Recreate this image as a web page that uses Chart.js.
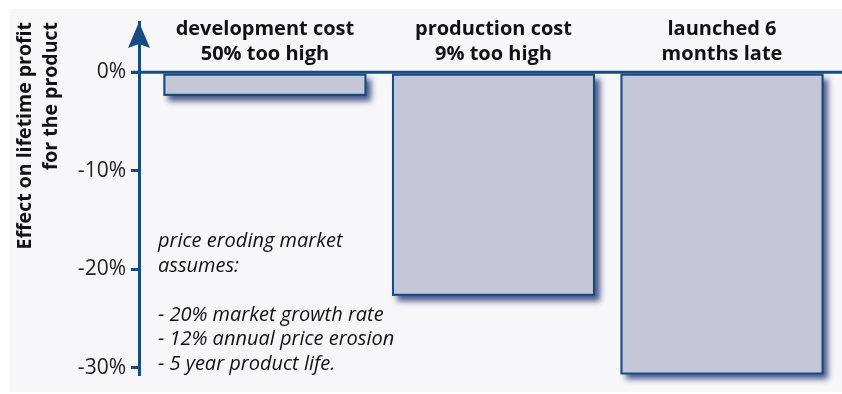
<!DOCTYPE html>
<html>
<head>
<meta charset="utf-8">
<script src="https://cdn.jsdelivr.net/npm/chart.js@4/dist/chart.umd.min.js"></script>
<style>
  html, body { margin: 0; padding: 0; background: #fff; }
</style>
</head>
<body>
<canvas id="profitChart" width="842" height="394"></canvas>
<script>
const categories = [
	['development cost', '50% too high'],
	['production cost', '9% too high'],
	['launched 6', 'months late']
];
const profitEffect = [-2.4, -22.7, -30.7];
const yTicks = [0, -10, -20, -30];
const axisTitle = ['Effect on lifetime profit', 'for the product'];
const noteLines = [
	'price eroding market',
	'assumes:',
	'',
	'- 20% market growth rate',
	'- 12% annual price erosion',
	'- 5 year product life.'
];

const navy = '#174c80';
const fontFamily = '"Open Sans", "Noto Sans", sans-serif';

// light panel behind everything
const backdrop = {
	id: 'backdrop',
	beforeDraw(chart) {
		const ctx = chart.ctx;
		ctx.save();
		ctx.fillStyle = '#ffffff';
		ctx.fillRect(0, 0, chart.width, chart.height);
		ctx.fillStyle = '#f7f7f9';
		ctx.fillRect(10, 9, chart.width - 10, chart.height - 11);
		ctx.restore();
	}
};

// soft drop shadow under each bar
const barShadow = {
	id: 'barShadow',
	beforeDatasetsDraw(chart) {
		const ctx = chart.ctx;
		const meta = chart.getDatasetMeta(0);
		ctx.save();
		ctx.shadowColor = 'rgba(30, 45, 110, 0.8)';
		ctx.shadowBlur = 6;
		ctx.shadowOffsetX = 5;
		ctx.shadowOffsetY = 5;
		ctx.fillStyle = navy;
		meta.data.forEach(bar => {
			const { x, y, base, width } = bar.getProps(['x', 'y', 'base', 'width'], true);
			ctx.fillRect(x - width / 2, Math.min(y, base), width, Math.abs(base - y));
		});
		ctx.restore();
	}
};

// zero line, arrow head, category headers and the side note
const decorations = {
	id: 'decorations',
	afterDatasetsDraw(chart) {
		const ctx = chart.ctx;
		const area = chart.chartArea;
		const yScale = chart.scales.y;
		const y0 = yScale.getPixelForValue(0);

		ctx.save();
		ctx.strokeStyle = navy;
		ctx.lineWidth = 3;
		ctx.beginPath();
		ctx.moveTo(area.left - 8, y0);
		ctx.lineTo(chart.width, y0);
		ctx.stroke();

		ctx.fillStyle = navy;
		ctx.beginPath();
		ctx.moveTo(area.left, area.top);
		ctx.lineTo(area.left + 11, area.top + 26);
		ctx.lineTo(area.left, area.top + 22);
		ctx.lineTo(area.left - 11, area.top + 26);
		ctx.closePath();
		ctx.fill();

		ctx.fillStyle = '#111';
		ctx.textAlign = 'center';
		ctx.textBaseline = 'alphabetic';
		ctx.font = `bold 20px ${fontFamily}`;
		const meta = chart.getDatasetMeta(0);
		meta.data.forEach((bar, i) => {
			categories[i].forEach((line, j) => {
				ctx.fillText(line, bar.x, y0 - 37 + j * 25);
			});
		});

		ctx.textAlign = 'left';
		ctx.font = `italic 20px ${fontFamily}`;
		noteLines.forEach((line, i) => {
			ctx.fillText(line, area.left + 19, 247 + i * 24.6);
		});
		ctx.restore();
	}
};

new Chart(document.getElementById('profitChart'), {
	type: 'bar',
	data: {
		datasets: [{
			data: profitEffect.map((v, i) => ({ x: i, y: v })),
			backgroundColor: '#c5c7d9',
			borderColor: navy,
			borderWidth: 2,
			borderSkipped: false,
			categoryPercentage: 1,
			barPercentage: 0.888
		}]
	},
	options: {
		responsive: false,
		animation: false,
		devicePixelRatio: 1,
		layout: { padding: { top: 22, bottom: 20, left: 0, right: 0 } },
		plugins: {
			legend: { display: false },
			tooltip: { enabled: false }
		},
		scales: {
			x: {
				type: 'linear',
				offset: false,
				min: -0.551,
				max: 2.525,
				display: false,
				afterBuildTicks: scale => {
					scale.ticks = categories.map((c, i) => ({ value: i }));
				}
			},
			y: {
				min: -30.65,
				max: 5.1,
				afterBuildTicks: scale => {
					scale.ticks = yTicks.map(v => ({ value: v }));
				},
				afterFit: scale => {
					scale.width = 139;
				},
				border: { display: true, color: navy, width: 3 },
				grid: {
					drawOnChartArea: false,
					drawTicks: true,
					tickLength: 8,
					color: navy,
					lineWidth: 3
				},
				ticks: {
					callback: v => v + '%',
					color: '#222',
					padding: 5,
					font: { family: fontFamily, size: 21 }
				},
				title: {
					display: true,
					text: axisTitle,
					align: 'end',
					color: '#111',
					padding: { top: 13, bottom: 0 },
					font: { family: fontFamily, size: 19.5, weight: 'bold', lineHeight: 1.3 }
				}
			}
		}
	},
	plugins: [backdrop, barShadow, decorations]
});
</script>
</body>
</html>
